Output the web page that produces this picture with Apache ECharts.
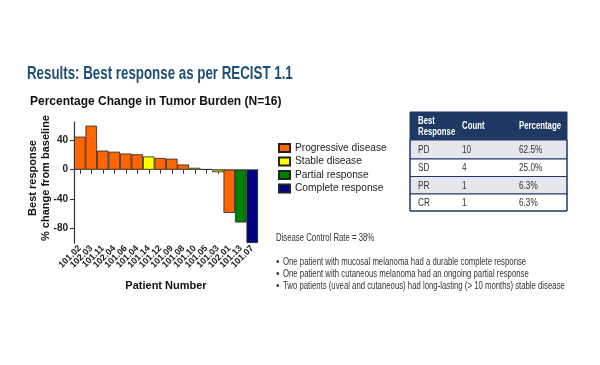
<!DOCTYPE html>
<html>
<head>
<meta charset="utf-8">
<script src="https://cdn.jsdelivr.net/npm/echarts@6/dist/echarts.min.js"></script>
<style>
html,body{margin:0;padding:0;background:#fff;}
#c{width:600px;height:365px;}
</style>
</head>
<body>
<div id="c"></div>
<script>
// ---- data ----
const patients = ['101.02','102.03','101.11','102.04','101.06','101.04','101.14','101.12','101.09','101.08','101.10','101.05','101.03','102.01','101.13','101.07'];
const responses = ['PD','PD','PD','PD','PD','PD','SD','PD','PD','PD','SD','SD','SD','PD','PR','CR'];
const changes = [45, 60, 26, 24.5, 22, 21, 18, 16, 15, 7, 2.5, 0.6, -3.5, -59, -72, -100];
const responseCodes = ['PD','SD','PR','CR'];
const responseNames = ['Progressive disease','Stable disease','Partial response','Complete response'];
const yTicks = [-80, -40, 0, 40];
const tableHeader = ['Best\nResponse', 'Count', 'Percentage'];
const tableRows = [['PD','10','62.5%'],['SD','4','25.0%'],['PR','1','6.3%'],['CR','1','6.3%']];
const noteDCR = 'Disease Control Rate = 38%';
const bullets = [
  'One patient with mucosal melanoma had a durable complete response',
  'One patient with cutaneous melanoma had an ongoing partial response',
  'Two patients (uveal and cutaneous) had long-lasting (> 10 months) stable disease'
];

// ---- styles ----
const colors = {PD:'#FF6600', SD:'#FFFF00', PR:'#008000', CR:'#000080'};
const sans = '"Liberation Sans",Arial,Helvetica,sans-serif';
const navy = '#1F3864';

const series = responseCodes.map((code, k) => ({
  name: responseNames[k],
  type: 'bar',
  stack: 'all',
  barCategoryGap: 0,
  itemStyle: {color: colors[code], borderColor: '#222', borderWidth: 0.8},
  data: changes.map((v, i) => responses[i] === code ? v : '-'),
  markLine: k === 0 ? {
    silent: true, symbol: 'none', label: {show: false}, z: 1,
    lineStyle: {color: '#999', width: 1, type: 'solid'},
    data: [{yAxis: 0}]
  } : undefined
}));

// condensed text helper (narrow look via horizontal scale)
function ntext(x, y, text, font, fill, sx, extra) {
  return Object.assign({type:'text', x: x, y: y, scaleX: sx,
    style: Object.assign({text: text, font: font, fill: fill, verticalAlign: 'middle'}, extra || {})});
}

const tX = 410, tW = 157, colX = [418, 462, 519];
const headTop = 112, headH = 28;
const rowTops = [140, 159, 176.5, 194, 211];
const graphic = [];
graphic.push(ntext(27, 74, 'Results: Best response as per RECIST 1.1', 'bold 18px ' + sans, '#1F4E79', 0.74));
graphic.push({type:'text', left: 30, top: 96, style:{text:'Percentage Change in Tumor Burden (N=16)', font:'bold 12px ' + sans, fill:'#111'}});
graphic.push({type:'text', x: 33, y: 178, rotation: Math.PI/2, style:{text:'Best response', font:'bold 11px ' + sans, fill:'#111', align:'center', verticalAlign:'middle'}});
graphic.push({type:'text', x: 46, y: 178, rotation: Math.PI/2, style:{text:'% change from baseline', font:'bold 11px ' + sans, fill:'#111', align:'center', verticalAlign:'middle'}});
graphic.push({type:'rect', shape:{x:tX, y:headTop, width:tW, height:headH}, style:{fill:navy}});
tableHeader.forEach((h, j) => {
  graphic.push(ntext(colX[j], headTop + headH/2 + 0.5, h, 'bold 10px ' + sans, '#fff', 0.78, {lineHeight: 11.5}));
});
tableRows.forEach((r, i) => {
  const y0 = rowTops[i], h = rowTops[i+1] - rowTops[i];
  graphic.push({type:'rect', shape:{x:tX, y:y0, width:tW, height:h}, style:{fill: i % 2 === 0 ? '#E6E7EC' : '#fff', stroke: navy, lineWidth: 1}});
  r.forEach((c, j) => {
    graphic.push(ntext(colX[j], y0 + h/2 + 0.5, c, '10.5px ' + sans, '#333', 0.78));
  });
});
graphic.push({type:'rect', shape:{x:tX, y:headTop, width:tW, height:rowTops[4]-headTop}, style:{fill:'none', stroke:navy, lineWidth:1}});
graphic.push(ntext(276, 238, noteDCR, '10.5px ' + sans, '#333', 0.74));
bullets.forEach((b, i) => {
  const y = 262 + i * 12.2;
  graphic.push({type:'text', x: 276, y: y, style:{text:'•', font:'10px ' + sans, fill:'#333', verticalAlign:'middle'}});
  graphic.push(ntext(283, y, b, '10.5px ' + sans, '#333', 0.74));
});

const chart = echarts.init(document.getElementById('c'));
chart.setOption({
  animation: false,
  backgroundColor: '#fff',
  grid: {left: 74, right: 342, top: 122, bottom: 122, containLabel: false},
  legend: {
    orient: 'vertical', left: 273, top: 138, itemWidth: 11, itemHeight: 8, itemGap: 3.5,
    icon: 'rect',
    textStyle: {fontFamily: sans, fontSize: 10.2, color: '#222'},
    data: responseNames
  },
  xAxis: {
    type: 'category', data: patients,
    axisLine: {lineStyle: {color: '#333', width: 1.2}},
    axisTick: {show: true, alignWithLabel: true, length: 4, lineStyle: {color: '#333'}},
    axisLabel: {rotate: 45, interval: 0, fontFamily: sans, fontWeight: 'bold', fontSize: 9, color: '#222', margin: 4},
    name: 'Patient Number', nameLocation: 'middle', nameGap: 37,
    nameTextStyle: {fontFamily: sans, fontWeight: 'bold', fontSize: 11, color: '#111'}
  },
  yAxis: {
    type: 'value', min: -100, max: 65,
    axisLine: {show: true, lineStyle: {color: '#333', width: 1.2}},
    axisTick: {show: true, length: 4, customValues: yTicks, lineStyle: {color: '#333'}},
    axisLabel: {customValues: yTicks, fontFamily: sans, fontWeight: 'bold', fontSize: 10, color: '#222', margin: 6},
    splitLine: {show: false}
  },
  series: series,
  graphic: graphic
});
</script>
</body>
</html>
